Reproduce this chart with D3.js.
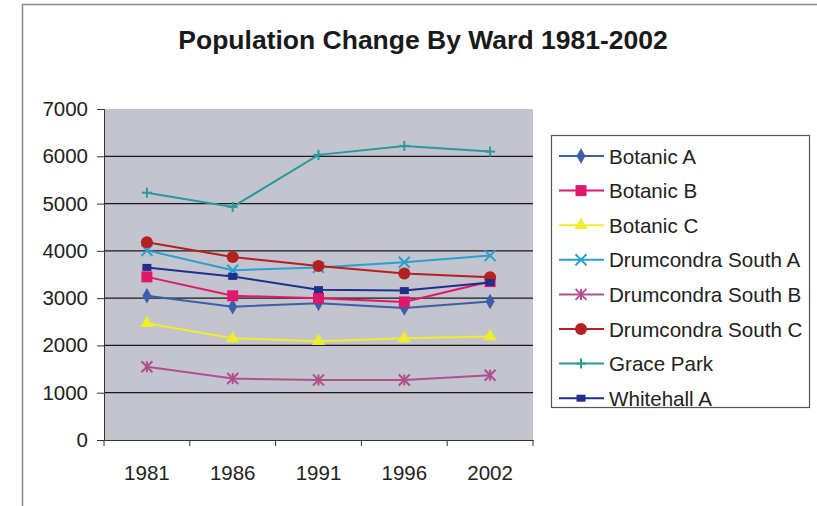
<!DOCTYPE html>
<html>
<head>
<meta charset="utf-8">
<script src="https://cdn.jsdelivr.net/npm/d3@7"></script>
<style>
  body { margin: 0; background: #fff; }
  svg { display: block; font-family: "Liberation Sans", Arial, sans-serif; }
</style>
</head>
<body>
<svg width="817" height="506"></svg>
<script>
const years = ["1981", "1986", "1991", "1996", "2002"];
const yTicks = [0, 1000, 2000, 3000, 4000, 5000, 6000, 7000];

const botanicA = [3050, 2820, 2890, 2790, 2930];
const botanicB = [3450, 3050, 3000, 2920, 3350];
const botanicC = [2470, 2150, 2090, 2150, 2190];
const drumSouthA = [4010, 3590, 3650, 3760, 3900];
const drumSouthB = [1550, 1300, 1270, 1270, 1370];
const drumSouthC = [4180, 3870, 3680, 3520, 3440];
const gracePark = [5230, 4930, 6030, 6220, 6100];
const whitehallA = [3650, 3460, 3180, 3160, 3330];

const series = [
  {name: "Botanic A", values: botanicA, color: "#3b5fa8", marker: "diamond"},
  {name: "Botanic B", values: botanicB, color: "#e0186c", marker: "square"},
  {name: "Botanic C", values: botanicC, color: "#f0ee2c", marker: "triangle"},
  {name: "Drumcondra South A", values: drumSouthA, color: "#2a9fd0", marker: "x"},
  {name: "Drumcondra South B", values: drumSouthB, color: "#b0508e", marker: "star"},
  {name: "Drumcondra South C", values: drumSouthC, color: "#b52020", marker: "circle"},
  {name: "Grace Park", values: gracePark, color: "#2a9a9a", marker: "plus"},
  {name: "Whitehall A", values: whitehallA, color: "#1f2f8c", marker: "smallsquare"}
];

const svg = d3.select("svg");

// outer chart border
svg.append("rect")
    .attr("x", 22.5).attr("y", 4.5)
    .attr("width", 820).attr("height", 520)
    .attr("fill", "#fff")
    .attr("stroke", "#8a8a8a")
    .attr("stroke-width", 1.5);

const plot = {left: 104, right: 533, top: 109, bottom: 440};

const x = d3.scaleBand().domain(years).range([plot.left, plot.right]);
const y = d3.scaleLinear().domain([0, 7000]).range([plot.bottom, plot.top]);

svg.append("text")
    .attr("x", 423).attr("y", 49)
    .attr("text-anchor", "middle")
    .attr("font-size", 26.5)
    .attr("font-weight", "bold")
    .attr("fill", "#1a1a1a")
    .text("Population Change By Ward 1981-2002");

// plot area
svg.append("rect")
    .attr("x", plot.left).attr("y", plot.top)
    .attr("width", plot.right - plot.left).attr("height", plot.bottom - plot.top)
    .attr("fill", "#c3c4cd");

// gridlines
svg.append("g")
    .selectAll("line")
    .data(yTicks.filter(d => d > 0 && d < 7000))
    .enter().append("line")
    .attr("x1", plot.left).attr("x2", plot.right)
    .attr("y1", d => y(d)).attr("y2", d => y(d))
    .attr("stroke", "#1a1a1a")
    .attr("stroke-width", 1.2);

// y axis
const yAxis = svg.append("g")
    .attr("transform", `translate(${plot.left},0)`)
    .call(d3.axisLeft(y).tickValues(yTicks).tickFormat(d3.format("d")).tickSize(7).tickPadding(9));
yAxis.selectAll("text").attr("font-size", 20.5).attr("fill", "#222").style("font-family", "inherit");
yAxis.selectAll("line, path").attr("stroke", "#333");

// x axis with ticks between categories
const xAxis = svg.append("g")
    .attr("transform", `translate(0,${plot.bottom})`)
    .call(d3.axisBottom(x).tickSize(0).tickPadding(25));
xAxis.selectAll("text").attr("font-size", 20.5).attr("fill", "#222").style("font-family", "inherit");
xAxis.select("path").attr("stroke", "#333");
xAxis.selectAll(".between")
    .data(years.concat(["end"]))
    .enter().append("line")
    .attr("class", "between")
    .attr("x1", (d, i) => plot.left + i * x.bandwidth())
    .attr("x2", (d, i) => plot.left + i * x.bandwidth())
    .attr("y1", 0).attr("y2", 6)
    .attr("stroke", "#333");

function drawMarker(g, type, color) {
  if (type === "diamond") {
    g.append("path").attr("d", d3.symbol(d3.symbolDiamond, 70)()).attr("fill", color);
  } else if (type === "square") {
    g.append("rect").attr("x", -5.5).attr("y", -5.5).attr("width", 11).attr("height", 11).attr("fill", color);
  } else if (type === "triangle") {
    g.append("path").attr("d", d3.symbol(d3.symbolTriangle, 75)()).attr("fill", color);
  } else if (type === "circle") {
    g.append("circle").attr("r", 6).attr("fill", color);
  } else if (type === "smallsquare") {
    g.append("rect").attr("x", -4.5).attr("y", -3.5).attr("width", 9).attr("height", 7).attr("fill", color);
  } else {
    const r = type === "plus" ? 5 : 5.5;
    let segs = [];
    if (type === "x" || type === "star") segs.push([-r, -r, r, r], [-r, r, r, -r]);
    if (type === "star") segs.push([0, -r, 0, r]);
    if (type === "plus") segs.push([-r, 0, r, 0], [0, -r, 0, r]);
    segs.forEach(s => g.append("line")
      .attr("x1", s[0]).attr("y1", s[1]).attr("x2", s[2]).attr("y2", s[3])
      .attr("stroke", color).attr("stroke-width", 2));
  }
}

const line = d3.line()
    .x((d, i) => x(years[i]) + x.bandwidth() / 2)
    .y(d => y(d));

const seriesG = svg.append("g");
series.forEach(s => {
  seriesG.append("path")
      .attr("d", line(s.values))
      .attr("fill", "none")
      .attr("stroke", s.color)
      .attr("stroke-width", 2);
  s.values.forEach((v, i) => {
    const m = seriesG.append("g")
        .attr("transform", `translate(${x(years[i]) + x.bandwidth() / 2},${y(v)})`);
    drawMarker(m, s.marker, s.color);
  });
});

// legend
const legend = svg.append("g");
legend.append("rect")
    .attr("x", 551.5).attr("y", 135.5)
    .attr("width", 258).attr("height", 272)
    .attr("fill", "#fff")
    .attr("stroke", "#555")
    .attr("stroke-width", 1.2);

const item = legend.selectAll(".item")
    .data(series)
    .enter().append("g")
    .attr("class", "item")
    .attr("transform", (d, i) => `translate(0,${156 + i * 34.6})`);

item.append("line")
    .attr("x1", 559).attr("x2", 604)
    .attr("stroke", d => d.color)
    .attr("stroke-width", 2);
item.each(function(d) {
  drawMarker(d3.select(this).append("g").attr("transform", "translate(581,0)"), d.marker, d.color);
});
item.append("text")
    .attr("x", 609).attr("y", 7.5)
    .attr("font-size", 20.6)
    .attr("fill", "#222")
    .text(d => d.name);
</script>
</body>
</html>
